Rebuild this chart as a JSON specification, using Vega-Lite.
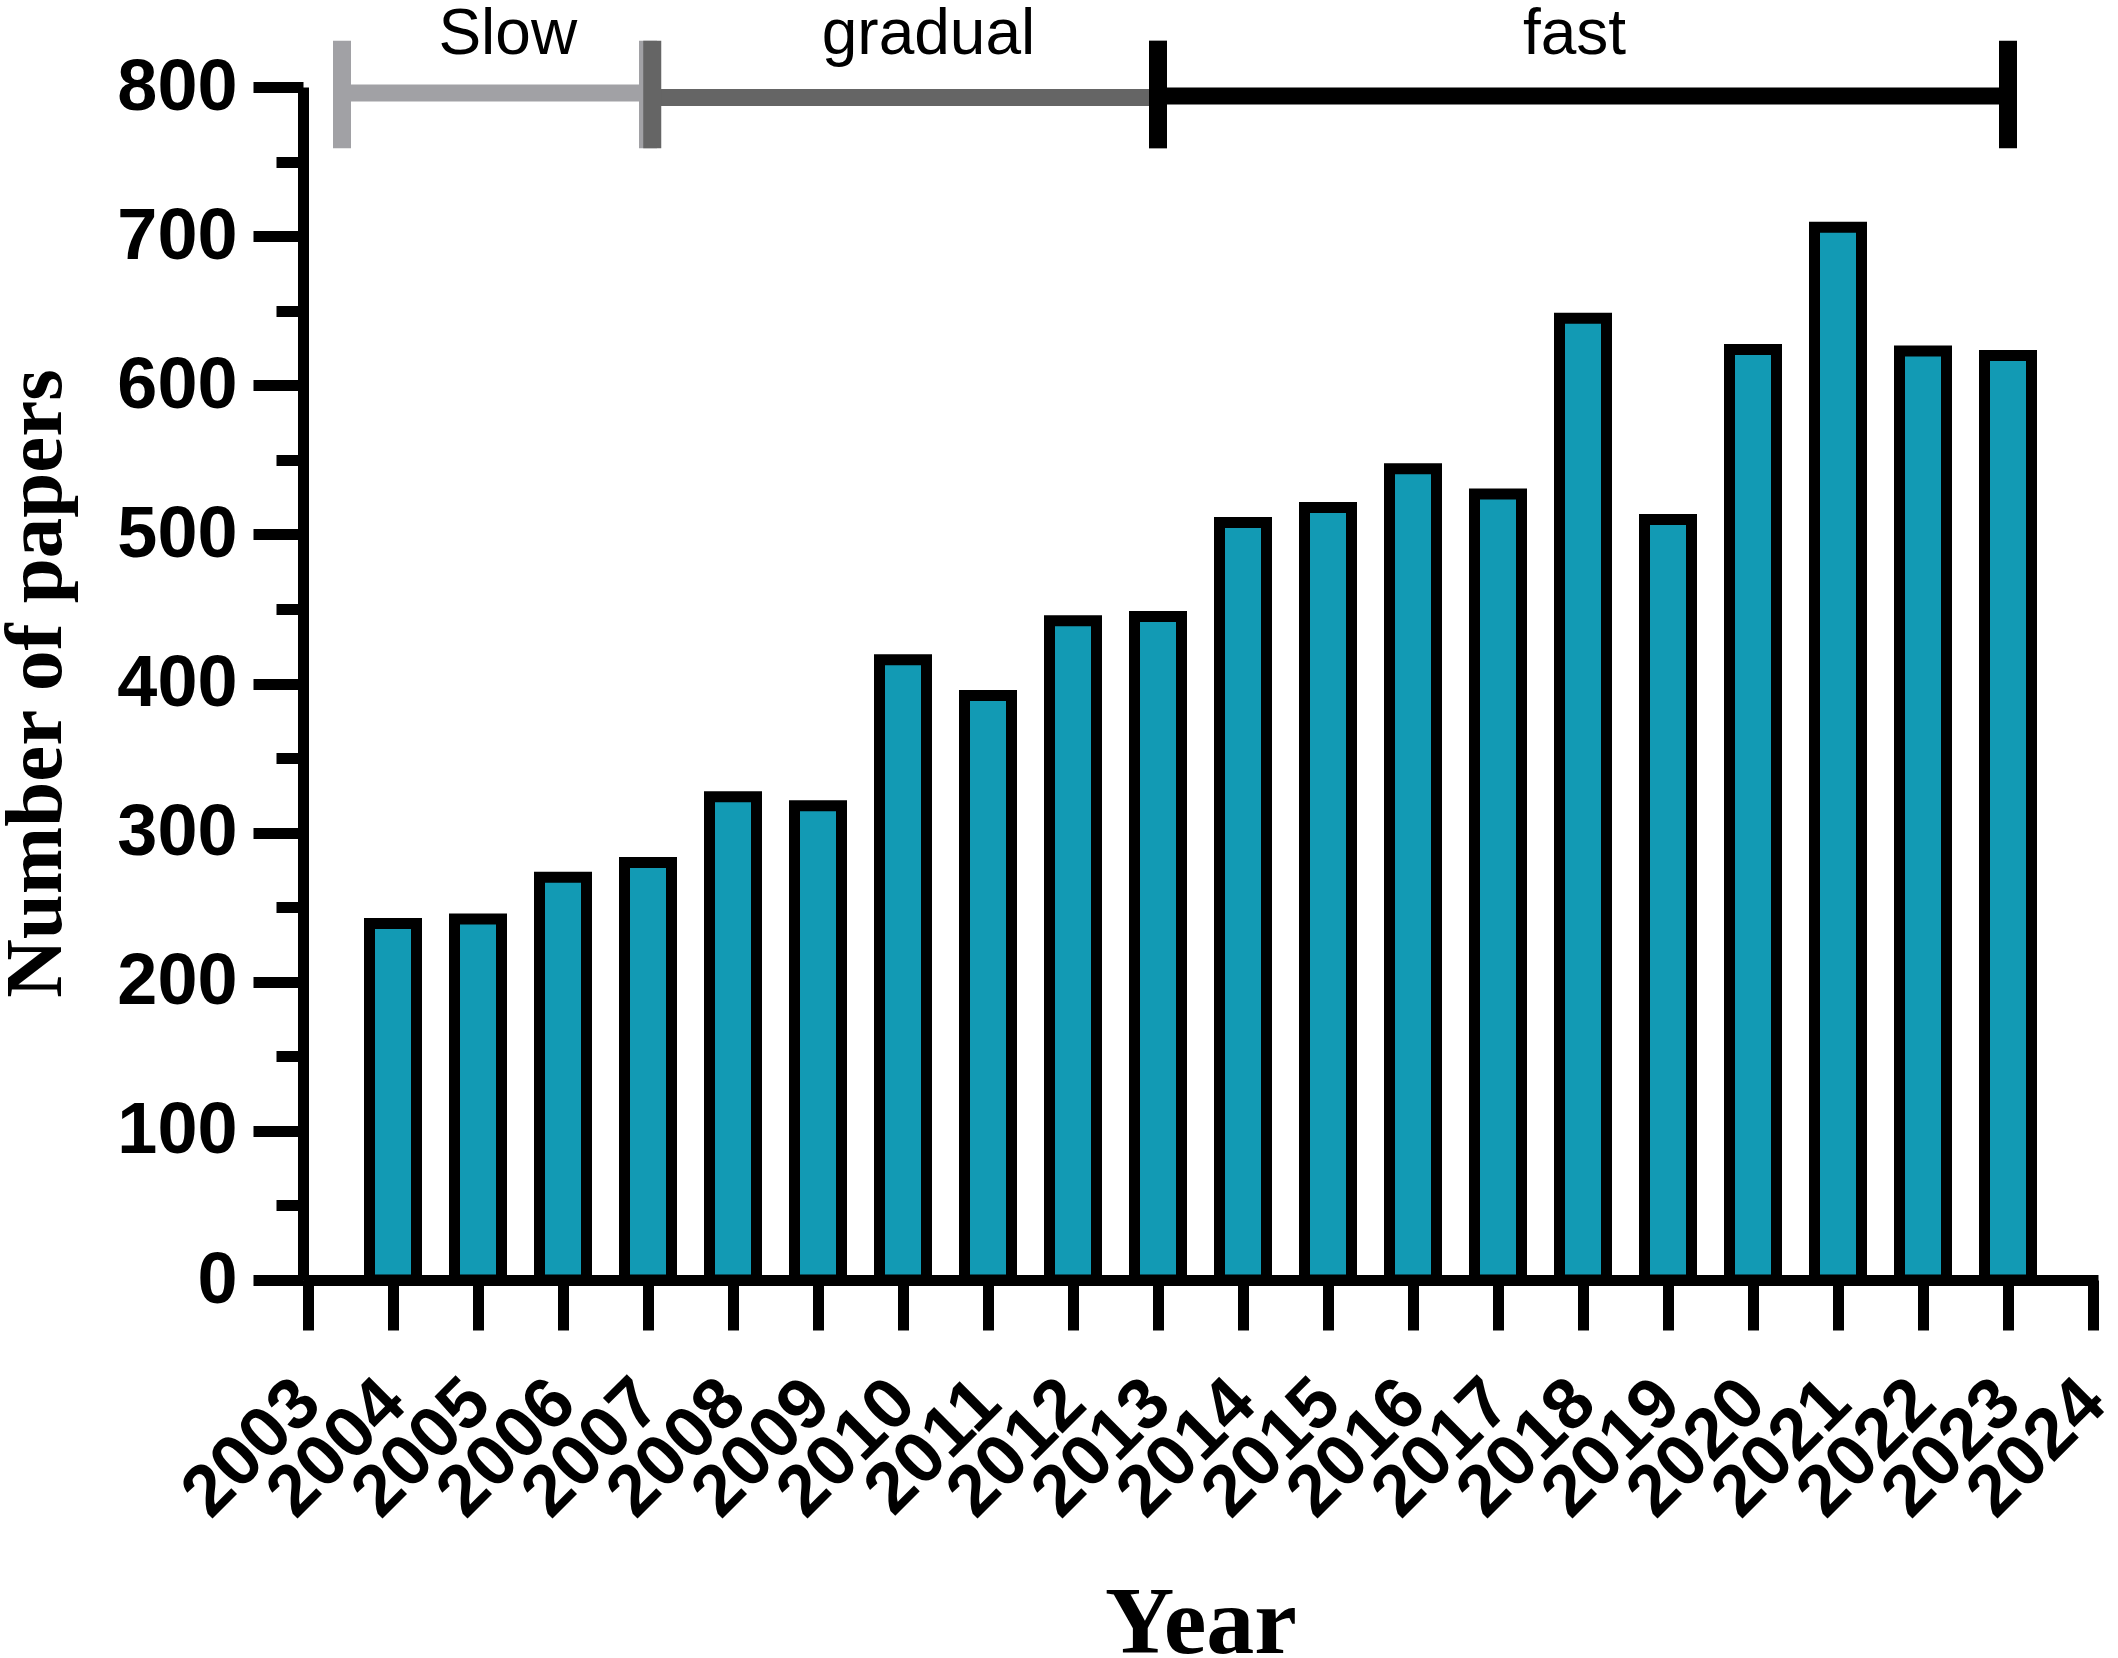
{
  "$schema": "https://vega.github.io/schema/vega-lite/v6.json",
  "width": 1795,
  "height": 1193,
  "autosize": "none",
  "padding": {"left": 303, "top": 87, "right": 20, "bottom": 378},
  "background": "white",
  "datasets": {
    "papers": [
      {"Year": 2004, "Papers": 239},
      {"Year": 2005, "Papers": 242},
      {"Year": 2006, "Papers": 270},
      {"Year": 2007, "Papers": 280},
      {"Year": 2008, "Papers": 324},
      {"Year": 2009, "Papers": 318},
      {"Year": 2010, "Papers": 416},
      {"Year": 2011, "Papers": 392},
      {"Year": 2012, "Papers": 442},
      {"Year": 2013, "Papers": 445},
      {"Year": 2014, "Papers": 508},
      {"Year": 2015, "Papers": 518},
      {"Year": 2016, "Papers": 544},
      {"Year": 2017, "Papers": 527},
      {"Year": 2018, "Papers": 645},
      {"Year": 2019, "Papers": 510},
      {"Year": 2020, "Papers": 624},
      {"Year": 2021, "Papers": 706},
      {"Year": 2022, "Papers": 623},
      {"Year": 2023, "Papers": 620}
    ],
    "phases": [
      {"phase": "Slow", "start": 2003.4, "end": 2007.0, "level": 796, "labelAt": 2005.35},
      {"phase": "gradual", "start": 2007.05, "end": 2013.0, "level": 793, "labelAt": 2010.3},
      {"phase": "fast", "start": 2013.0, "end": 2023.0, "level": 794, "labelAt": 2017.9}
    ]
  },
  "config": {
    "view": {"stroke": null},
    "axis": {
      "grid": false,
      "domainColor": "black",
      "domainWidth": 11,
      "tickColor": "black",
      "tickWidth": 11,
      "labelColor": "black",
      "labelFont": "Liberation Sans",
      "labelFontWeight": "bold",
      "labelFontSize": 72,
      "titleColor": "black",
      "titleFont": "Liberation Serif",
      "titleFontWeight": "bold"
    }
  },
  "layer": [
    {
      "data": {"name": "papers"},
      "mark": {"type": "bar", "width": 47, "fill": "#129AB4", "stroke": "black", "strokeWidth": 11},
      "encoding": {
        "x": {
          "field": "Year",
          "type": "quantitative",
          "scale": {"domain": [2003, 2024], "nice": false, "zero": false},
          "axis": {
            "title": "Year",
            "values": [2003, 2004, 2005, 2006, 2007, 2008, 2009, 2010, 2011, 2012, 2013, 2014, 2015, 2016, 2017, 2018, 2019, 2020, 2021, 2022, 2023, 2024],
            "format": "d",
            "tickSize": 50,
            "labelAngle": -45,
            "labelAlign": "right",
            "labelBaseline": "middle",
            "labelPadding": 61,
            "labelOverlap": false,
            "labelFlush": false,
            "titleFontSize": 96,
            "titleBaseline": "alphabetic",
            "titleY": 372
          }
        },
        "y": {
          "field": "Papers",
          "type": "quantitative",
          "scale": {"domain": [0, 800], "nice": false},
          "axis": {
            "title": "Number of papers",
            "values": [0, 50, 100, 150, 200, 250, 300, 350, 400, 450, 500, 550, 600, 650, 700, 750, 800],
            "labelExpr": "datum.value % 100 === 0 ? datum.label : ''",
            "tickSize": {"condition": {"test": "datum.value % 100 !== 0", "value": 27}, "value": 50},
            "labelPadding": 16,
            "labelAlign": "right",
            "labelBaseline": "middle",
            "labelOverlap": false,
            "titleFontSize": 81,
            "titleAngle": -90,
            "titleBaseline": "alphabetic",
            "titleX": -243,
            "titleY": 596
          }
        }
      }
    },
    {
      "data": {"name": "phases"},
      "mark": {"type": "rule", "strokeWidth": 17, "strokeCap": "butt"},
      "encoding": {
        "x": {"field": "start", "type": "quantitative", "scale": {"domain": [2003, 2024], "nice": false, "zero": false}},
        "x2": {"field": "end"},
        "y": {"field": "level", "type": "quantitative", "scale": {"domain": [0, 800], "nice": false}},
        "color": {
          "field": "phase",
          "type": "nominal",
          "scale": {"domain": ["Slow", "gradual", "fast"], "range": ["#A1A1A5", "#656565", "#000000"]},
          "legend": null
        }
      }
    },
    {
      "data": {"name": "phases"},
      "transform": [{"fold": ["start", "end"], "as": ["edge", "at"]}],
      "mark": {"type": "rule", "strokeWidth": 18, "strokeCap": "butt"},
      "encoding": {
        "x": {"field": "at", "type": "quantitative", "scale": {"domain": [2003, 2024], "nice": false, "zero": false}},
        "y": {"datum": 831, "type": "quantitative"},
        "y2": {"datum": 759},
        "color": {"field": "phase", "type": "nominal", "legend": null}
      }
    },
    {
      "data": {"name": "phases"},
      "mark": {"type": "text", "font": "Liberation Sans", "fontSize": 64, "baseline": "alphabetic", "align": "center", "color": "black"},
      "encoding": {
        "x": {"field": "labelAt", "type": "quantitative", "scale": {"domain": [2003, 2024], "nice": false, "zero": false}},
        "y": {"datum": 822, "type": "quantitative"},
        "text": {"field": "phase"}
      }
    }
  ]
}
